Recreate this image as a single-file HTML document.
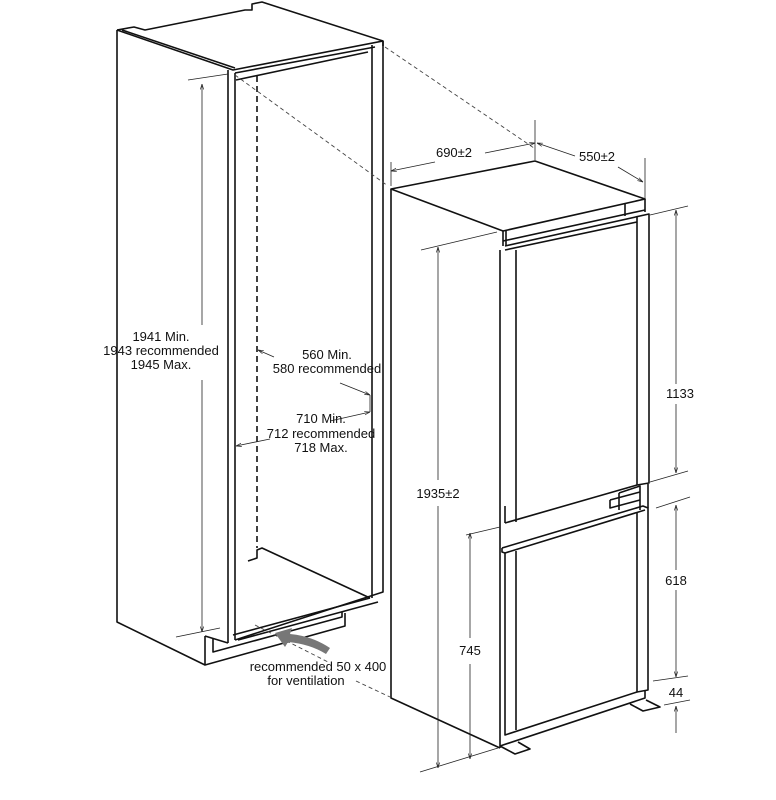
<!DOCTYPE html>
<html><head><meta charset="utf-8"><style>
html,body{margin:0;padding:0;background:#fff}
svg{display:block}
text{font-family:"Liberation Sans",sans-serif;font-size:13px;fill:#111}
.m{stroke:#111;stroke-width:1.6;fill:none;stroke-linejoin:round}
.t{stroke:#222;stroke-width:0.8;fill:none}
.d{stroke:#444;stroke-width:0.9;fill:none;stroke-dasharray:4 3}
</style></head><body>
<svg width="776" height="800" viewBox="0 0 776 800" xmlns="http://www.w3.org/2000/svg">
<defs>
<marker id="a" viewBox="0 0 10 10" refX="10" refY="5" markerWidth="7" markerHeight="7" orient="auto-start-reverse"><path d="M0,2 L10,5 L0,8" fill="none" stroke="#222" stroke-width="1.2"/></marker>
</defs>
<path class="m" d="M117,30 L134,27 L145,30 L245,10 L252,10 L252,4 L262,2 L383,41 L383,46"/>
<path class="m" d="M117,30 L233,70 L383,41"/>
<path class="m" d="M122,30 L235,68"/>
<path class="m" d="M235,73 L375,47"/>
<path class="m" d="M236,80 L368,52"/>
<path class="m" d="M117,30 L117,622 L205,665"/>
<path class="m" d="M228,70 L228,643"/>
<path class="m" d="M235,73 L235,640"/>
<path class="m" d="M372,45 L372,598"/>
<path class="m" d="M383,41 L383,592 L235,640"/>
<path class="m" d="M248,561 L257,558 L257,550 L262,548 L370,598"/>
<path class="m" d="M233,635 L370,598"/>
<path class="m" d="M238,640 L378,602"/>
<path class="m" d="M205,636 L205,665 L345,626 L345,613"/>
<path class="m" d="M213,638 L213,652 L342,617 L342,612"/>
<path class="m" d="M205,636 L228,643"/>
<line x1="257" y1="76" x2="257" y2="548" stroke="#111" stroke-width="1.6" stroke-dasharray="6 4"/>
<line class="t" x1="188" y1="80" x2="228" y2="74"/>
<line class="t" x1="176" y1="637" x2="220" y2="628"/>
<line class="t" x1="202" y1="84" x2="202" y2="325" marker-start="url(#a)"/>
<line class="t" x1="202" y1="380" x2="202" y2="632" marker-end="url(#a)"/>
<text x="161" y="341" text-anchor="middle">1941 Min.</text>
<text x="161" y="355" text-anchor="middle">1943 recommended</text>
<text x="161" y="369" text-anchor="middle">1945 Max.</text>
<line class="t" x1="258" y1="350" x2="274" y2="357" marker-start="url(#a)"/>
<line class="t" x1="340" y1="383" x2="370" y2="395" marker-end="url(#a)"/>
<text x="327" y="359" text-anchor="middle">560 Min.</text>
<text x="327" y="373" text-anchor="middle">580 recommended</text>
<line class="t" x1="370" y1="395" x2="370" y2="412"/>
<line class="t" x1="236" y1="446" x2="270" y2="439" marker-start="url(#a)"/>
<line class="t" x1="330" y1="421" x2="370" y2="412" marker-end="url(#a)"/>
<text x="321" y="423" text-anchor="middle">710 Min.</text>
<text x="321" y="438" text-anchor="middle">712 recommended</text>
<text x="321" y="452" text-anchor="middle">718 Max.</text>
<line class="d" x1="235" y1="75" x2="388" y2="186"/>
<line class="d" x1="385" y1="47" x2="534" y2="148"/>
<line class="d" x1="255" y1="625" x2="330" y2="663"/>
<line class="d" x1="356" y1="681" x2="390" y2="697"/>
<path d="M275,633 L292,628 L290,634 Q312,636 330,648 L326,654 Q310,644 288,642 L285,647 Z" fill="#777"/>
<text x="318" y="671" text-anchor="middle">recommended 50 x 400</text>
<text x="306" y="685" text-anchor="middle">for ventilation</text>
<path class="m" d="M391,189 L535,161 L645,199 L503,231 Z"/>
<path class="m" d="M391,189 L391,698 L500,748"/>
<path class="m" d="M503,231 L503,246"/>
<path class="m" d="M506,231 L506,246"/>
<path class="m" d="M645,199 L645,212"/>
<path class="m" d="M625,204 L625,216"/>
<path class="m" d="M503,241 L645,210"/>
<path class="m" d="M505,246 L649,214 L649,483 L637,485"/>
<path class="m" d="M505,250 L637,222"/>
<path class="m" d="M500,250 L500,748"/>
<path class="m" d="M516,250 L516,522"/>
<path class="m" d="M637,216 L637,485 L505,523"/>
<path class="m" d="M505,523 L505,506"/>
<path class="m" d="M619,493 L640,486 L640,510"/>
<path class="m" d="M610,500 L640,492"/>
<path class="m" d="M610,500 L610,508 L640,500"/>
<path class="m" d="M619,493 L619,510"/>
<path class="m" d="M648,484 L648,508"/>
<path class="m" d="M502,548 L643,506 L648,508 L648,690 L637,692"/>
<path class="m" d="M502,548 L502,552 L505,553 L645,510"/>
<path class="m" d="M505,553 L505,735 L637,692 L637,512"/>
<path class="m" d="M516,551 L516,730"/>
<path class="m" d="M500,746 L645,698 L645,690"/>
<path class="m" d="M500,746 L515,754 L530,749 L518,742"/>
<path class="m" d="M630,704 L643,711 L660,707 L646,700"/>
<line class="t" x1="391" y1="162" x2="391" y2="186"/>
<line class="t" x1="535" y1="120" x2="535" y2="160"/>
<line class="t" x1="645" y1="158" x2="645" y2="199"/>
<line class="t" x1="391" y1="171" x2="435" y2="162" marker-start="url(#a)"/>
<line class="t" x1="485" y1="153" x2="535" y2="143" marker-end="url(#a)"/>
<text x="454" y="157" text-anchor="middle">690±2</text>
<line class="t" x1="537" y1="143" x2="575" y2="156" marker-start="url(#a)"/>
<line class="t" x1="618" y1="167" x2="643" y2="182" marker-end="url(#a)"/>
<text x="597" y="161" text-anchor="middle">550±2</text>
<line class="t" x1="421" y1="250" x2="497" y2="232"/>
<line class="t" x1="420" y1="772" x2="498" y2="748"/>
<line class="t" x1="438" y1="247" x2="438" y2="480" marker-start="url(#a)"/>
<line class="t" x1="438" y1="506" x2="438" y2="768" marker-end="url(#a)"/>
<text x="438" y="498" text-anchor="middle">1935±2</text>
<line class="t" x1="466" y1="535" x2="500" y2="527"/>
<line class="t" x1="470" y1="533" x2="470" y2="638" marker-start="url(#a)"/>
<line class="t" x1="470" y1="664" x2="470" y2="759" marker-end="url(#a)"/>
<text x="470" y="655" text-anchor="middle">745</text>
<line class="t" x1="650" y1="215" x2="688" y2="206"/>
<line class="t" x1="650" y1="482" x2="688" y2="471"/>
<line class="t" x1="676" y1="210" x2="676" y2="384" marker-start="url(#a)"/>
<line class="t" x1="676" y1="404" x2="676" y2="473" marker-end="url(#a)"/>
<text x="680" y="398" text-anchor="middle">1133</text>
<line class="t" x1="656" y1="508" x2="690" y2="497"/>
<line class="t" x1="653" y1="681" x2="688" y2="676"/>
<line class="t" x1="676" y1="505" x2="676" y2="570" marker-start="url(#a)"/>
<line class="t" x1="676" y1="590" x2="676" y2="677" marker-end="url(#a)"/>
<text x="676" y="585" text-anchor="middle">618</text>
<line class="t" x1="664" y1="705" x2="690" y2="700"/>
<line class="t" x1="676" y1="706" x2="676" y2="733" marker-start="url(#a)"/>
<text x="676" y="697" text-anchor="middle">44</text>
</svg>
</body></html>
